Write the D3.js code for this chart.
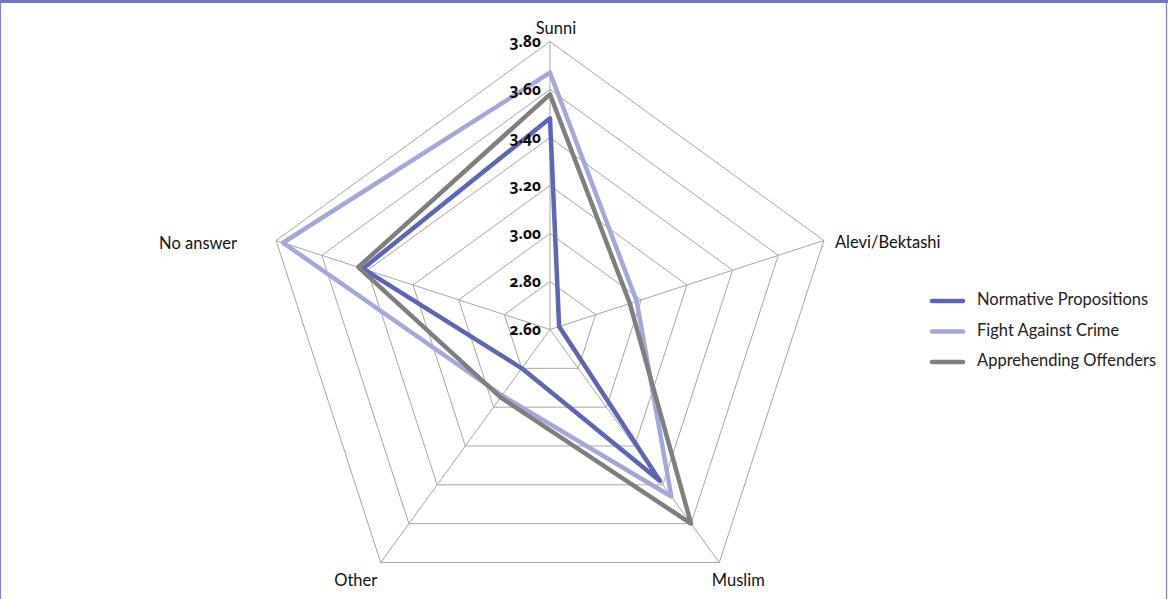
<!DOCTYPE html>
<html>
<head>
<meta charset="utf-8">
<script src="https://cdn.jsdelivr.net/npm/d3@7"></script>
<style>
  html, body { margin: 0; padding: 0; background: #fff; }
  svg { display: block; }
  .cat { font-family: Lato, "Open Sans", sans-serif; font-size: 16.5px; fill: #111; }
  .tick { font-family: "Noto Sans", Lato, sans-serif; font-size: 15.5px; font-weight: 700; fill: #111;
          font-variant-numeric: oldstyle-nums; font-feature-settings: "onum" 1; }
  .leg { font-family: Lato, "Open Sans", sans-serif; font-size: 16.5px; fill: #222; }
</style>
</head>
<body>
<svg id="chart" width="1168" height="599"></svg>
<script>
// Religious affiliation categories (spokes, clockwise from top)
const categories = ["Sunni", "Alevi/Bektashi", "Muslim", "Other", "No answer"];

// Mean scores per series, in category order
const normativePropositions = [3.48, 2.64, 3.38, 2.80, 3.42];
const fightAgainstCrime     = [3.67, 2.98, 3.46, 2.94, 3.77];
const apprehendingOffenders = [3.58, 2.95, 3.60, 2.95, 3.44];

const seriesNames = ["Normative Propositions", "Fight Against Crime", "Apprehending Offenders"];
const seriesColors = ["#5b66b4", "#a2a8d8", "#7f7f7f"];

// Radial axis ticks
const tickValues = [2.60, 2.80, 3.00, 3.20, 3.40, 3.60, 3.80];

const series = [normativePropositions, fightAgainstCrime, apprehendingOffenders].map((values, i) => ({
  name: seriesNames[i], color: seriesColors[i], values
}));

const svg = d3.select("#chart");
const W = 1168, H = 599;

// Frame
svg.append("rect").attr("x", 0.5).attr("y", 0.5).attr("width", W - 2).attr("height", H + 5)
  .attr("fill", "none").attr("stroke", "#7b83c6").attr("stroke-width", 1.2);
svg.append("rect").attr("x", 0).attr("y", 0).attr("width", W).attr("height", 3)
  .attr("fill", "#6f78bd");

const cx = 550, cy = 329.5, R = 288;
const r = d3.scaleLinear().domain([2.60, 3.80]).range([0, R]);
const angle = d3.scaleLinear().domain([0, categories.length]).range([0, 2 * Math.PI]);

function pt(i, v) {
  const a = angle(i);
  return [cx + r(v) * Math.sin(a), cy - r(v) * Math.cos(a)];
}

const g = svg.append("g");

// Grid rings
const ringLine = d3.line().curve(d3.curveLinearClosed);
tickValues.slice(1).forEach(t => {
  g.append("path")
    .attr("d", ringLine(categories.map((c, i) => pt(i, t))))
    .attr("fill", "none").attr("stroke", "#a6a6a6").attr("stroke-width", 1);
});

// Spokes
categories.forEach((c, i) => {
  const [x, y] = pt(i, 3.80);
  g.append("line").attr("x1", cx).attr("y1", cy).attr("x2", x).attr("y2", y)
    .attr("stroke", "#a6a6a6").attr("stroke-width", 1);
});

// Series polygons
const seriesLine = d3.line().curve(d3.curveLinearClosed);
series.forEach(s => {
  g.append("path")
    .attr("d", seriesLine(s.values.map((v, i) => pt(i, v))))
    .attr("fill", "none").attr("stroke", s.color)
    .attr("stroke-width", 4.5).attr("stroke-linejoin", "round");
});

// Tick labels along the top spoke
tickValues.forEach(t => {
  g.append("text").attr("class", "tick")
    .attr("x", cx - 9).attr("y", cy - r(t) + 1)
    .attr("text-anchor", "end").attr("dominant-baseline", "middle")
    .text(t.toFixed(2));
});

// Category labels
const labelPos = [
  { dx: 6, dy: -12, anchor: "middle" },
  { dx: 11, dy: 3, anchor: "start" },
  { dx: 19, dy: 19, anchor: "middle" },
  { dx: -25, dy: 19, anchor: "middle" },
  { dx: -39, dy: 4, anchor: "end" }
];
categories.forEach((c, i) => {
  const [x, y] = pt(i, 3.80);
  const p = labelPos[i];
  g.append("text").attr("class", "cat")
    .attr("x", x + p.dx).attr("y", y + p.dy)
    .attr("text-anchor", p.anchor).attr("dominant-baseline", "middle")
    .text(c);
});

// Legend
const legend = svg.append("g").attr("transform", "translate(932,301)");
series.forEach((s, i) => {
  const row = legend.append("g").attr("transform", `translate(0,${i * 30.5})`);
  row.append("line").attr("x1", 0).attr("x2", 31).attr("y1", 0).attr("y2", 0)
    .attr("stroke", s.color).attr("stroke-width", 4.5).attr("stroke-linecap", "round");
  row.append("text").attr("class", "leg").attr("x", 45).attr("y", 0)
    .attr("dominant-baseline", "middle").text(s.name);
});
</script>
</body>
</html>
